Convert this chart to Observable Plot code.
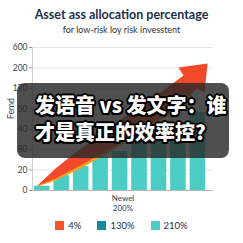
<!DOCTYPE html>
<html><head><meta charset="utf-8">
<script src="https://cdn.jsdelivr.net/npm/d3@7"></script>
<script src="https://cdn.jsdelivr.net/npm/@observablehq/plot@0.6"></script>
<style>
html,body{margin:0;padding:0;background:#fff;}
#wrap{position:relative;width:243px;height:243px;overflow:hidden;font-family:Lato,"Open Sans",sans-serif;}
#title{position:absolute;top:7px;left:0;width:243px;text-align:center;font-size:12.5px;font-weight:700;color:#1d2f4c;}
#subtitle{position:absolute;top:24px;left:0;width:243px;text-align:center;font-size:9px;color:#333;}
#chart{position:absolute;top:38px;left:0;}
#legend{position:absolute;top:220px;left:0;width:243px;display:flex;justify-content:center;gap:16px;font-size:9.5px;color:#1d2f4c;}
#legend span.i{display:flex;align-items:center;gap:4px;}
#legend span.s{width:9px;height:9px;display:inline-block;}
#overlay{position:absolute;left:17px;top:83px;width:212px;height:75px;border-radius:8px;background:rgba(40,40,40,0.82);}
#otext{position:absolute;left:35px;top:91px;font-family:"Noto Sans CJK SC",sans-serif;font-weight:900;font-size:20px;line-height:27px;color:#fff;white-space:nowrap;
 text-shadow:-1.5px -1.5px 0 #000,1.5px -1.5px 0 #000,-1.5px 1.5px 0 #000,1.5px 1.5px 0 #000,0 2px 0 #000,0 -2px 0 #000,2px 0 0 #000,-2px 0 0 #000;}
</style></head>
<body><div id="wrap">
<div id="title">Asset ass allocation percentage</div>
<div id="subtitle">for low-risk loy risk invesstent</div>
<div id="chart"></div>
<div id="legend"></div>
<div id="overlay"></div>
<div id="otext">发语音 vs 发文字：谁<br>才是真正的效率控?</div>
</div>
<script>
const categories = [1,2,3,4,5,6,7,8,9];
const values = [0.21,0.73,1.17,1.63,1.91,2.3,2.55,2.94,3.82];
const tickLabels = ["0","20","80","40","50","170","200","600"];
const legendLabels = ["4%","130%","210%"];
const legendColors = ["#f4532e","#138a9c","#4ccdc3"];
const yTitle = "Femd";
const xTitle = "Newel\n200%";
const arrowRedX = [0.757,1.682,2.710,3.994,5.536,7.078,8.259,8.003,9.493,9.339,8.979,7.591,6.050,4.508,2.967,1.682];
const arrowRedY = [0.245,1.077,1.860,2.741,3.818,4.797,5.629,6.021,6.216,4.797,4.993,3.916,2.937,2.056,1.224,0.587];
const arrowOrX = [0.757,1.682,2.967,4.508,6.050,7.591,8.619,8.722,7.591,6.050,4.508,2.967,1.682,0.757];
const arrowOrY = [0.245,0.734,1.371,2.203,3.084,4.063,4.797,4.552,3.769,2.790,1.909,1.077,0.489,0.196];

const bars = categories.map((c,i)=>({c, v: values[i]}));
const red = arrowRedX.map((x,i)=>({x, y: arrowRedY[i]}));
const orange = arrowOrX.map((x,i)=>({x, y: arrowOrY[i]}));
const ticks = tickLabels.map((t,i)=>i);

const plot = Plot.plot({
  width: 243, height: 180,
  marginTop: 9, marginBottom: 28, marginLeft: 32, marginRight: 30,
  style: {fontSize: "8.5px", fontFamily: "Lato, 'Open Sans', sans-serif", color: "#444", background: "transparent"},
  x: {type: "linear", domain: [0.5, 9.8], axis: null},
  y: {domain: [0, 7], axis: null},
  marks: [
    Plot.gridY(ticks, {stroke: "#e4e4e4", strokeOpacity: 1}),
    Plot.axisY(ticks, {tickFormat: i => tickLabels[i], tickSize: 3, tickPadding: 2, stroke: "#999", fill: "#444"}),
    Plot.ruleX([0.5], {stroke: "#cfcfcf"}),
    Plot.rectY(bars, {x1: d => d.c - 0.4, x2: d => d.c + 0.4, y: "v", fill: legendColors[2]}),
    Plot.ruleY([0], {stroke: "#b8b8b8"}),
    Plot.line(orange, {x: "x", y: "y", fill: "#f6a21c", stroke: "none"}),
    Plot.line(red, {x: "x", y: "y", fill: "#f2492a", stroke: "none"}),
    Plot.text([xTitle], {frameAnchor: "bottom", lineAnchor: "top", dy: 4, lineHeight: 1.2, fontSize: 8, fill: "#2a3f5f"}),
    Plot.text([yTitle], {frameAnchor: "left", rotate: -90, dx: -21, fontSize: 8.5, fill: "#2a3f5f"})
  ]
});
document.getElementById("chart").appendChild(plot);

const lg = document.getElementById("legend");
legendLabels.forEach((l,i)=>{
  const it = document.createElement("span"); it.className="i";
  const s = document.createElement("span"); s.className="s"; s.style.background = legendColors[i];
  const t = document.createElement("span"); t.textContent = l;
  it.appendChild(s); it.appendChild(t); lg.appendChild(it);
});
</script>
</body></html>
